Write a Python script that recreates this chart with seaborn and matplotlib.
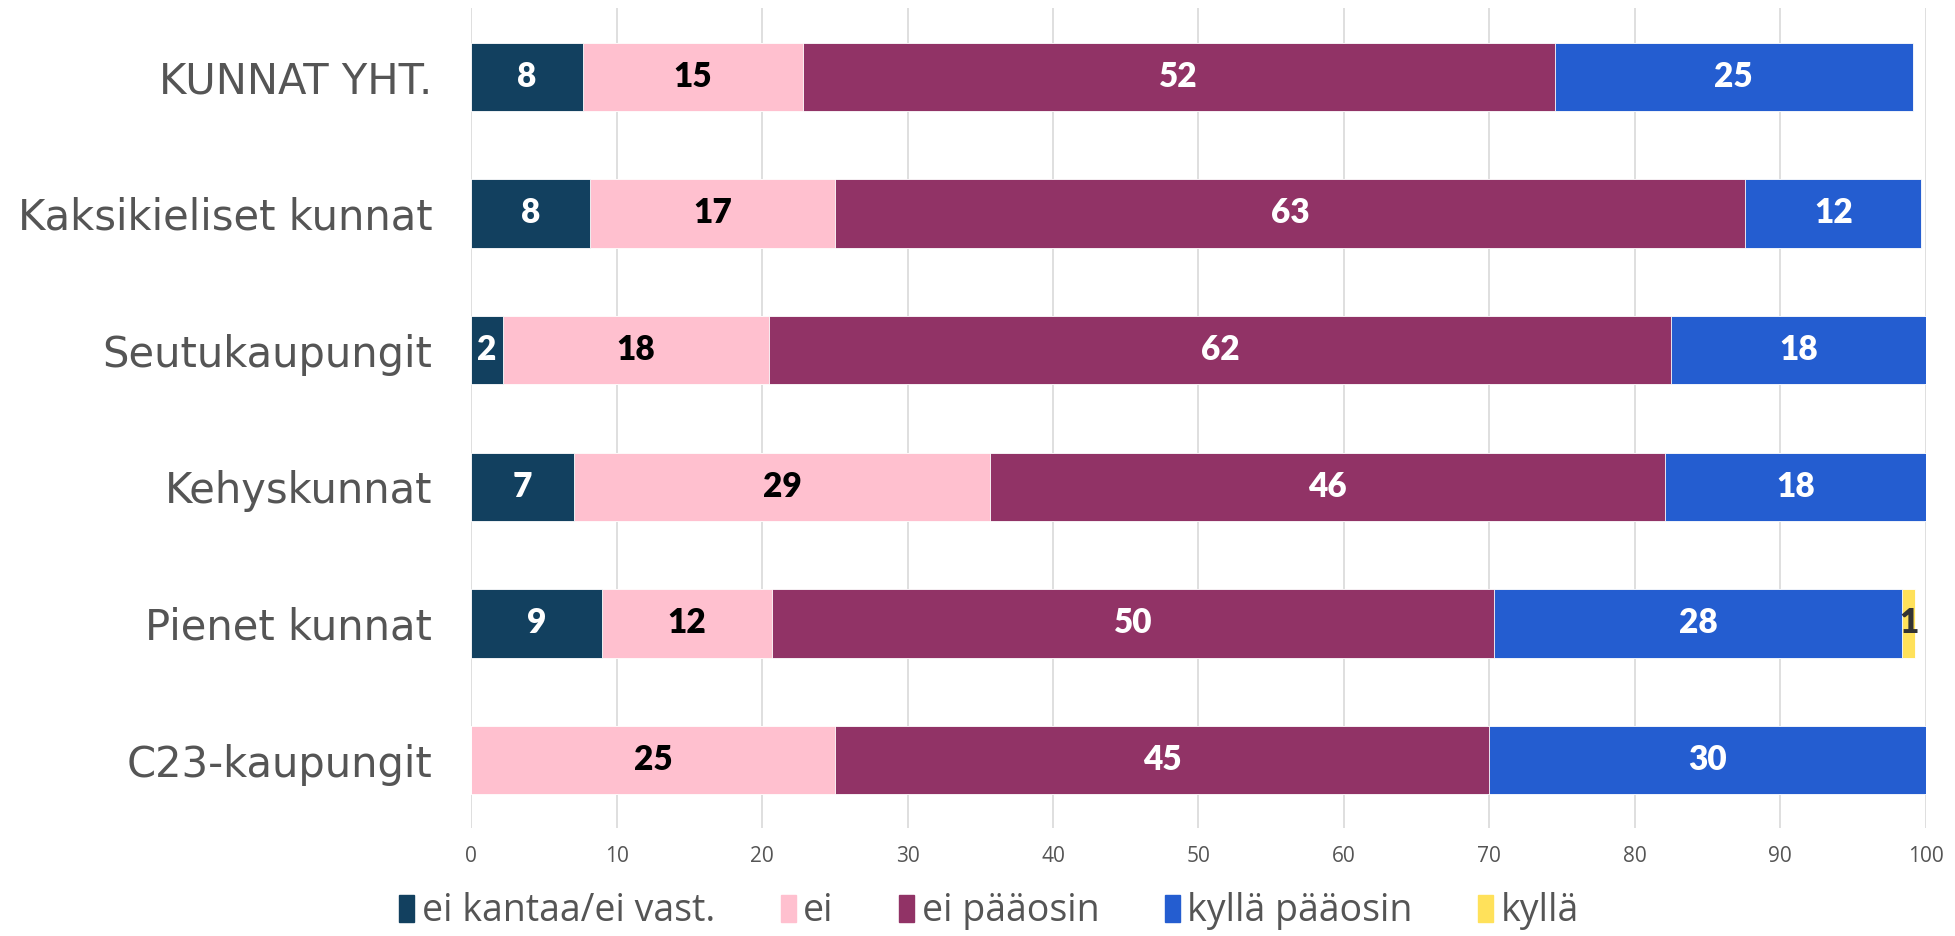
import matplotlib.pyplot as plt
import seaborn as sns
import numpy as np
import pandas as pd

# Data (percent shares per group)
groups = ['KUNNAT YHT.', 'Kaksikieliset kunnat', 'Seutukaupungit',
          'Kehyskunnat', 'Pienet kunnat', 'C23-kaupungit']
answers = ['ei kantaa/ei vast.', 'ei', 'ei pääosin', 'kyllä pääosin', 'kyllä']

ei_kantaa = [7.7, 8.2, 2.2, 7.1, 9.0, 0.0]
ei = [15.1, 16.8, 18.3, 28.6, 11.7, 25.0]
ei_paaosin = [51.7, 62.6, 62.0, 46.4, 49.6, 45.0]
kylla_paaosin = [24.6, 12.1, 17.6, 17.9, 28.1, 30.0]
kylla = [0.0, 0.0, 0.0, 0.0, 0.9, 0.0]

COLORS = ['#12405f', '#ffc0cf', '#913366', '#245dd0', '#ffe15a']
LABEL_COLORS = ['white', 'black', 'white', 'white', '#333333']

df = pd.DataFrame({'group': groups})
for name, vals in zip(answers, [ei_kantaa, ei, ei_paaosin, kylla_paaosin, kylla]):
    df[name] = vals
cum = df[answers].cumsum(axis=1)

sns.set_theme(style='white')
plt.rcParams['font.family'] = ['Open Sans', 'DejaVu Sans']

fig, ax = plt.subplots(figsize=(19.55, 9.36), dpi=100)
fig.subplots_adjust(left=0.241, right=0.985, top=0.991, bottom=0.115)

# vertical grid behind bars
for x in range(0, 101, 10):
    ax.axvline(x, color='#d9d9d9', linewidth=1.2, zorder=0)

# stacked bars: draw cumulative totals from the last segment backwards
for i in range(len(answers) - 1, -1, -1):
    sns.barplot(x=cum[answers[i]], y=df['group'], color=COLORS[i], orient='h',
                width=0.5, saturation=1, ax=ax, zorder=2,
                edgecolor='white', linewidth=0.6)

# value labels at segment centers
for r in range(len(groups)):
    left = 0.0
    for i, name in enumerate(answers):
        v = df.loc[r, name]
        if v > 0:
            ax.text(left + v / 2, r, f'{round(v):d}', ha='center', va='center',
                    fontsize=24, fontweight='heavy', family=['Lato', 'DejaVu Sans'],
                    color=LABEL_COLORS[i], zorder=3)
        left += v

ax.set_xlim(0, 100)
ax.set_ylim(5.5, -0.5)
ax.set_xticks(range(0, 101, 10))
ax.set_xlabel('')
ax.set_ylabel('')
ax.tick_params(axis='x', labelsize=15, labelcolor='#555555', length=0, pad=13)
ax.tick_params(axis='y', labelsize=30, labelcolor='#555555', length=0, pad=28)
for lab in ax.get_yticklabels():
    lab.set_family(['DejaVu Sans'])
for s in ax.spines.values():
    s.set_visible(False)
ax.grid(False)

handles = [plt.Rectangle((0, 0), 1, 1, color=c) for c in COLORS]
fig.legend(handles, answers, loc='lower center', bbox_to_anchor=(0.506, -0.03),
           ncol=5, frameon=False, fontsize=27, labelcolor='#555555',
           handlelength=0.4, handleheight=0.75, handletextpad=0.2, columnspacing=1.75)

plt.savefig('out.png', dpi=100)
plt.close()
